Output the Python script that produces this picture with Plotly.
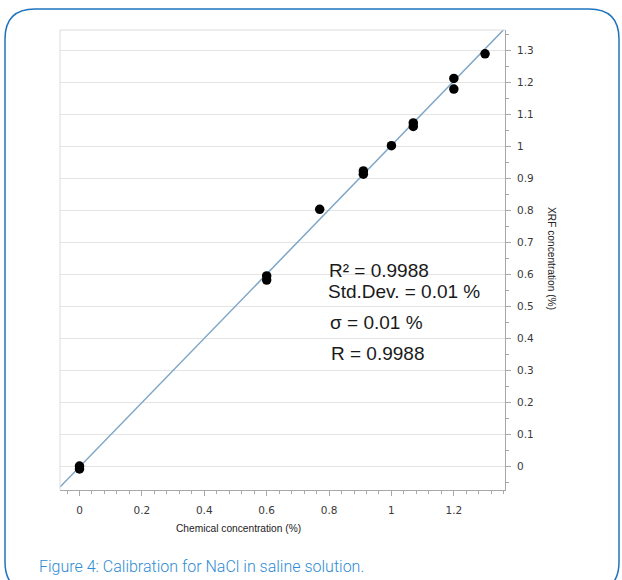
import plotly.graph_objects as go

# ---- data ----
chem_conc = [0.0, 0.0, 0.6, 0.6, 0.77, 0.91, 0.91, 1.0, 1.07, 1.07, 1.2, 1.2, 1.3]
xrf_conc = [0.0, -0.009, 0.594, 0.581, 0.802, 0.922, 0.912, 1.001, 1.072, 1.061, 1.211, 1.178, 1.288]
fit_slope = 1.005
fit_intercept = -0.003
x_range = [-0.0625, 1.364]
y_range = [-0.075, 1.3625]
x_ticks = [0, 0.2, 0.4, 0.6, 0.8, 1, 1.2]
x_tick_labels = ["0", "0.2", "0.4", "0.6", "0.8", "1", "1.2"]
y_ticks = [0, 0.1, 0.2, 0.3, 0.4, 0.5, 0.6, 0.7, 0.8, 0.9, 1, 1.1, 1.2, 1.3]
y_tick_labels = ["0", "0.1", "0.2", "0.3", "0.4", "0.5", "0.6", "0.7", "0.8", "0.9", "1", "1.1", "1.2", "1.3"]
stats_lines = ["R² = 0.9988", "Std.Dev. = 0.01 %", "σ = 0.01 %", "R = 0.9988"]
x_title = "Chemical concentration (%)"
y_title = "XRF concentration (%)"
caption = "Figure 4: Calibration for NaCl in saline solution."

# ---- layout geometry (pixels) ----
W, H = 622, 580
L, R, T, B = 60, 505, 30, 490


def px(x):
    return (x - L) / (R - L)


def py(y):
    return (B - y) / (B - T)


fig = go.Figure()

fit_x = x_range
fit_y = [fit_slope * v + fit_intercept for v in fit_x]
fig.add_trace(go.Scatter(x=fit_x, y=fit_y, mode="lines",
                         line=dict(color="#7fa6c6", width=1.5),
                         hoverinfo="skip", showlegend=False, cliponaxis=True))
fig.add_trace(go.Scatter(x=chem_conc, y=xrf_conc, mode="markers",
                         marker=dict(color="black", size=9.5),
                         showlegend=False))

tick_font = dict(family="DejaVu Sans", size=10.5, color="#3a3a3a")
axis_col = "#a8a8a8"

fig.update_xaxes(range=x_range, tickvals=x_ticks, ticktext=x_tick_labels,
                 showgrid=False, zeroline=False, showline=True, linecolor=axis_col,
                 linewidth=1, ticks="outside", ticklen=5, tickcolor=axis_col,
                 tickfont=tick_font, ticklabelstandoff=5,
                 minor=dict(dtick=0.04, tick0=0, ticks="outside", ticklen=3,
                            tickcolor=axis_col, showgrid=False))
fig.update_yaxes(range=y_range, tickvals=y_ticks, ticktext=y_tick_labels, side="right",
                 showgrid=True, gridcolor="#e4e4e4", gridwidth=1,
                 zeroline=False, showline=True, linecolor=axis_col,
                 linewidth=1, ticks="outside", ticklen=5, tickcolor=axis_col,
                 tickfont=tick_font, ticklabelstandoff=4,
                 minor=dict(dtick=0.05, tick0=0, ticks="outside", ticklen=3,
                            tickcolor=axis_col, showgrid=False))

shapes = []
# light frame on top and left of plot area
shapes.append(dict(type="line", xref="paper", yref="paper", x0=0, x1=1, y0=1, y1=1,
                   line=dict(color="#dcdcdc", width=1)))
shapes.append(dict(type="line", xref="paper", yref="paper", x0=0, x1=0, y0=0, y1=1,
                   line=dict(color="#dcdcdc", width=1)))

# rounded blue border
bl, br, bt, bb, r = 5, 619, 9, 592, 30
path = (f"M {px(bl)},{py(bt + r)} "
        f"Q {px(bl)},{py(bt)} {px(bl + r)},{py(bt)} "
        f"L {px(br - r)},{py(bt)} "
        f"Q {px(br)},{py(bt)} {px(br)},{py(bt + r)} "
        f"L {px(br)},{py(bb - r)} "
        f"Q {px(br)},{py(bb)} {px(br - r)},{py(bb)} "
        f"L {px(bl + r)},{py(bb)} "
        f"Q {px(bl)},{py(bb)} {px(bl)},{py(bb - r)} Z")
shapes.append(dict(type="path", xref="paper", yref="paper", path=path,
                   line=dict(color="#1f74be", width=1.5), layer="below"))

annotations = []
stat_pos = [(327, 270), (326, 291), (328, 322), (329, 353)]
for txt, (ax_, ay_) in zip(stats_lines, stat_pos):
    annotations.append(dict(text=txt, x=px(ax_), y=py(ay_), xref="paper", yref="paper",
                            xanchor="left", yanchor="middle", showarrow=False,
                            font=dict(family="Liberation Sans", size=19, color="#1a1a1a")))
annotations.append(dict(text=x_title, x=px(238), y=py(528), xref="paper", yref="paper",
                        xanchor="center", yanchor="middle", showarrow=False,
                        font=dict(family="Liberation Sans", size=10.2, color="#222222")))
annotations.append(dict(text=y_title, x=px(552), y=py(258), xref="paper", yref="paper",
                        xanchor="center", yanchor="middle", showarrow=False, textangle=90,
                        font=dict(family="Liberation Sans", size=10.2, color="#222222")))
annotations.append(dict(text=caption, x=px(37), y=py(566), xref="paper", yref="paper",
                        xanchor="left", yanchor="middle", showarrow=False,
                        font=dict(family="Roboto", size=16, color="#2f8bd4", weight=300)))

fig.update_layout(width=W, height=H, margin=dict(l=L, r=W - R, t=T, b=H - B),
                  paper_bgcolor="white", plot_bgcolor="white",
                  shapes=shapes, annotations=annotations, showlegend=False)

fig.write_html("out.html", config={"displayModeBar": False},
               post_script="document.body.style.margin='0';document.body.style.overflow='hidden';")
